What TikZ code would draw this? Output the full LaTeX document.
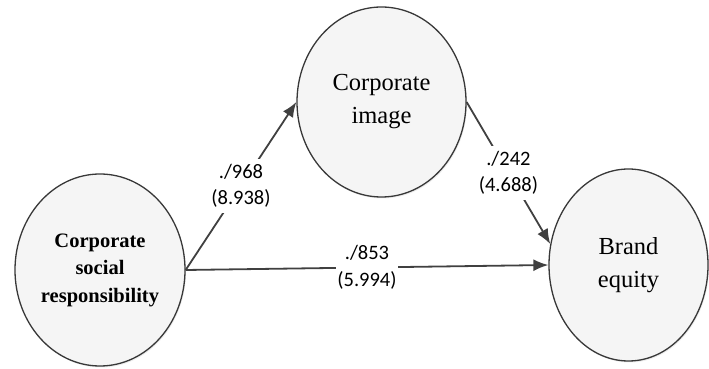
\documentclass[tikz,border=0pt]{standalone}
\usepackage{fontspec}
\setmainfont{Liberation Serif}
\newfontfamily\lblfont{Carlito}
\usetikzlibrary{arrows.meta,shadows,shapes.geometric}

\tikzset{
  construct/.style={
    ellipse, draw=black!78, line width=1.3pt, fill=black!4,
    drop shadow={opacity=0.15, shadow xshift=1pt, shadow yshift=-1.5pt},
    align=center, inner sep=0pt
  },
  pathline/.style={
    draw=black!75, line width=1.8pt,
    -{Latex[length=15pt,width=12pt]}
  },
  coef/.style={
    fill=white, align=center, inner xsep=1pt, inner ysep=5pt,
    font=\lblfont\fontsize{20.5}{26.5}\selectfont, text=black
  },
  bigtext/.style={font=\fontsize{24.5}{33}\selectfont},
  boldtext/.style={font=\fontsize{20.5}{27.5}\selectfont\bfseries}
}

\begin{document}
\begin{tikzpicture}[x=1pt,y=1pt]
  \useasboundingbox (0,0) rectangle (709,369);

  % latent constructs
  \node[construct, boldtext, minimum width=170pt, minimum height=192pt]
    (csr) at (100,99) {Corporate\\social\\responsibility};
  \node[construct, bigtext, minimum width=169pt, minimum height=190pt]
    (img) at (381.5,267) {Corporate\\image};
  \node[construct, bigtext, minimum width=159pt, minimum height=192pt]
    (brand) at (628.5,104) {Brand\\equity};

  % structural paths with coefficients (t-values)
  \draw[pathline] (csr.east) -- node[coef] {./968\\(8.938)} (img.west);
  \draw[pathline] (img.east) -- node[coef] {./242\\(4.688)} (brand.165);
  \draw[pathline] (csr.east) -- node[coef] {./853\\(5.994)} (brand.west);
\end{tikzpicture}
\end{document}
